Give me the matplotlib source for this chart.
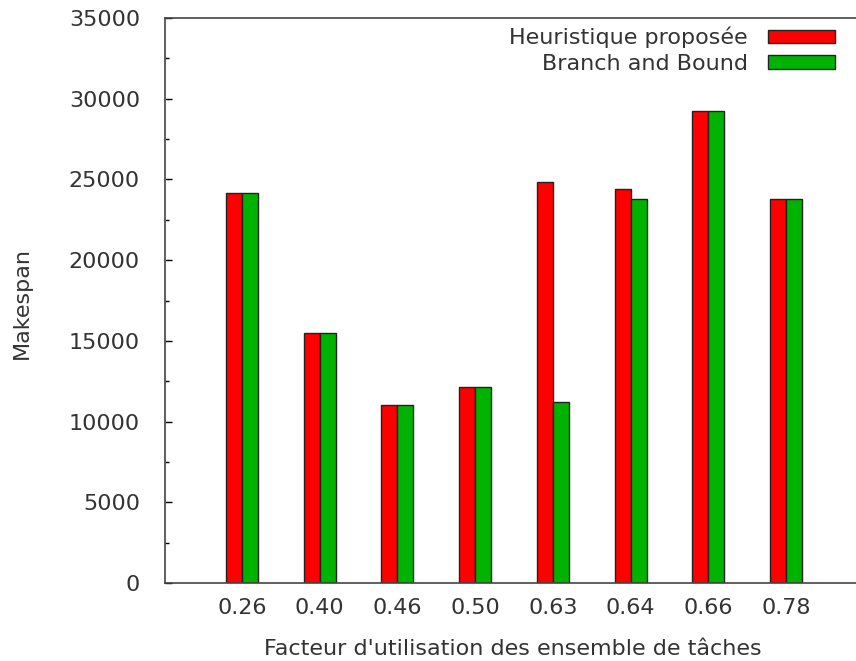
import matplotlib
matplotlib.use("Agg")
import matplotlib.pyplot as plt
import numpy as np
from matplotlib.ticker import MultipleLocator

categories = ["0.26", "0.40", "0.46", "0.50", "0.63", "0.64", "0.66", "0.78"]
heuristique = [24150, 15500, 11000, 12150, 24850, 24400, 29250, 23800]
branch_bound = [24150, 15500, 11000, 12150, 11200, 23800, 29250, 23800]

plt.rcParams['font.family'] = ['DejaVu Sans']
fig = plt.figure(figsize=(8.56, 6.61), dpi=100)
ax = fig.add_axes([165/856, 1-583/661, 1-165/856, (583-18)/661])

x = np.arange(len(categories))
w = 0.205
txt = '#333333'
fs = 16
ax.bar(x - w/2, heuristique, w, color='#ff0000', edgecolor='#222222', linewidth=1.0,
       label='Heuristique proposée')
ax.bar(x + w/2, branch_bound, w, color='#00b300', edgecolor='#222222', linewidth=1.0,
       label='Branch and Bound')

ax.set_xlim(-0.99, 7.9)
ax.set_ylim(0, 35000)
ax.set_xticks(x)
ax.set_xticklabels(categories)
ax.yaxis.set_major_locator(MultipleLocator(5000))
ax.yaxis.set_minor_locator(MultipleLocator(2500))
ax.tick_params(axis='y', which='major', direction='in', length=5, width=1, labelsize=fs,
               labelcolor=txt, pad=18)
ax.tick_params(axis='y', which='minor', direction='in', length=3, width=1)
ax.tick_params(axis='x', length=0, labelsize=fs, labelcolor=txt, pad=11)
ax.spines['right'].set_visible(False)
for s in ['left', 'bottom', 'top']:
    ax.spines[s].set_color('#444444')
    ax.spines[s].set_linewidth(1.2)

fig.text(22/856, 1-303/661, 'Makespan', rotation=90, ha='center', va='center',
         fontsize=fs, color=txt)
fig.text(513/856, 1-649/661, "Facteur d'utilisation des ensemble de tâches",
         ha='center', va='center', fontsize=fs, color=txt)

leg = ax.legend(loc='upper right', bbox_to_anchor=(0.982, 1.0), frameon=False, markerfirst=False,
                fontsize=fs, handlelength=3.0, handleheight=0.54, labelspacing=0.25,
                handletextpad=0.9, borderaxespad=0.0)
for t in leg.get_texts():
    t.set_color(txt)

fig.savefig('out.png', dpi=100)
